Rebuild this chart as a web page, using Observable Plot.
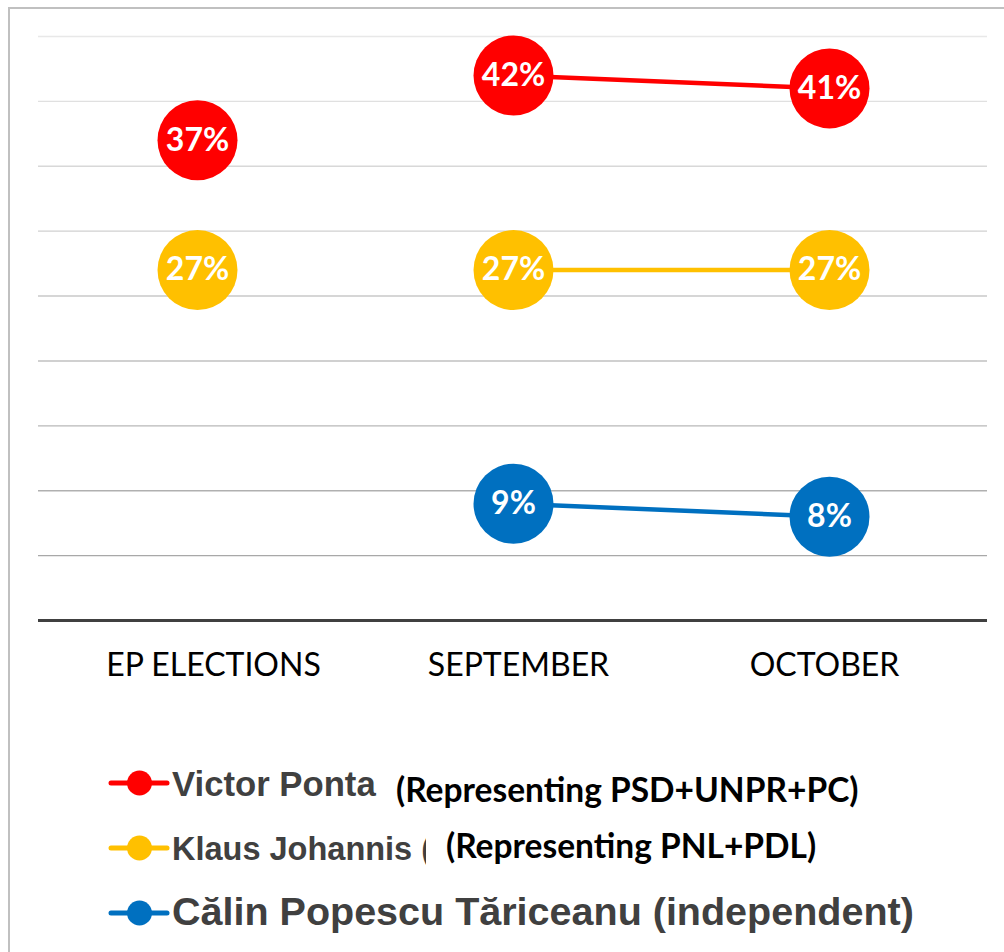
<!DOCTYPE html>
<html>
<head>
<meta charset="utf-8">
<script src="https://cdn.jsdelivr.net/npm/d3@7"></script>
<script src="https://cdn.jsdelivr.net/npm/@observablehq/plot@0.6"></script>
<style>
  html, body { margin: 0; padding: 0; width: 1004px; height: 952px; overflow: hidden; background: white; }
  #frame { position: absolute; left: 8px; top: 7px; width: 1100px; height: 1100px; border: 2px solid #c0c0c0; box-sizing: border-box; }
  #chart { position: absolute; left: 0; top: 0; }
  .lg { position: absolute; white-space: nowrap; line-height: 1; }
  .name { font-family: "Liberation Sans", Arial, sans-serif; font-weight: bold; color: #404040; }
  .paren { font-family: Lato, sans-serif; font-weight: bold; color: #000; }
  .sym { position: absolute; left: 108px; }
</style>
</head>
<body>
<div id="frame"></div>
<div id="chart"></div>
<div id="legend"></div>
<script>
const periods = ["EP ELECTIONS", "SEPTEMBER", "OCTOBER"];
const candidates = ["Victor Ponta", "Klaus Johannis", "Călin Popescu Tăriceanu"];
const ponta = [37, 42, 41];
const johannis = [27, 27, 27];
const tariceanu = [null, 9, 8];
const colors = ["#ff0000", "#ffc000", "#0070c0"];
const gridTicks = [5, 10, 15, 20, 25, 30, 35, 40, 45];

const series = [ponta, johannis, tariceanu];
const data = [];
series.forEach((vals, i) => {
  vals.forEach((v, j) => {
    if (v != null) data.push({cand: candidates[i], period: periods[j], value: v, color: colors[i]});
  });
});
const lineData = data.filter(d => d.period !== "EP ELECTIONS");

const gridColor = d3.scaleLinear().domain([5, 45]).range(["#a8a8a8", "#e8e8e8"]);
const axisStyle = {tickSize: 0, tickPadding: 33, fontSize: 32, fontFamily: "Lato", fill: "black", label: null};

const chart = Plot.plot({
  width: 1004,
  height: 700,
  marginLeft: 38,
  marginRight: 17,
  marginTop: 36,
  marginBottom: 80,
  style: {background: "transparent", overflow: "visible"},
  x: {type: "band", domain: periods, padding: 0, label: null, axis: null},
  y: {domain: [0, 45], axis: null},
  color: {type: "identity"},
  marks: [
    Plot.ruleY(gridTicks, {stroke: d => gridColor(d), strokeWidth: 1.4}),
    Plot.ruleY([0], {stroke: "#404040", strokeWidth: 3}),
    Plot.lineY(lineData, {x: "period", y: "value", z: "cand", stroke: "color", strokeWidth: 4.5}),
    Plot.dot(data, {x: "period", y: "value", r: 40, fill: "color"}),
    Plot.text(data, {x: "period", y: "value", text: d => d.value + "%", fill: "white",
      fontSize: 32, fontWeight: "bold", fontFamily: "Lato"}),
    Plot.axisX({...axisStyle, ticks: [periods[0]], dx: 16}),
    Plot.axisX({...axisStyle, ticks: [periods[1]], dx: 5}),
    Plot.axisX({...axisStyle, ticks: [periods[2]], dx: -5})
  ]
});
document.getElementById("chart").appendChild(chart);

// Legend (HTML, below the chart)
const legend = document.getElementById("legend");
const rows = [
  {y: 783, nameTop: 766.5, nameSize: 34.7, name: candidates[0] + " ", clip: null,
   paren: "(Representing PSD+UNPR+PC)", parenLeft: 396, parenTop: 772.5, parenSize: 33.5},
  {y: 848, nameTop: 832.5, nameSize: 32.5, name: candidates[1] + " (", clip: 254,
   paren: "(Representing PNL+PDL)", parenLeft: 446, parenTop: 828.5, parenSize: 33.5},
  {y: 913, nameTop: 891.5, nameSize: 39.5, name: candidates[2] + " (independent)", clip: null,
   paren: null}
];
rows.forEach((r, i) => {
  const sym = document.createElementNS("http://www.w3.org/2000/svg", "svg");
  sym.setAttribute("width", 64);
  sym.setAttribute("height", 30);
  sym.setAttribute("class", "sym");
  sym.style.top = (r.y - 15) + "px";
  sym.innerHTML = `<line x1="3" y1="15" x2="59" y2="15" stroke="${colors[i]}" stroke-width="5" stroke-linecap="round"/>` +
    `<circle cx="31.5" cy="15" r="12.5" fill="${colors[i]}"/>`;
  legend.appendChild(sym);

  const n = document.createElement("div");
  n.className = "lg name";
  n.style.left = "172px";
  n.style.top = r.nameTop + "px";
  n.style.fontSize = r.nameSize + "px";
  n.textContent = r.name;
  if (r.clip) { n.style.width = r.clip + "px"; n.style.overflow = "hidden"; }
  legend.appendChild(n);

  if (r.paren) {
    const p = document.createElement("div");
    p.className = "lg paren";
    p.style.left = r.parenLeft + "px";
    p.style.top = r.parenTop + "px";
    p.style.fontSize = r.parenSize + "px";
    p.textContent = r.paren;
    legend.appendChild(p);
  }
});
</script>
</body>
</html>
